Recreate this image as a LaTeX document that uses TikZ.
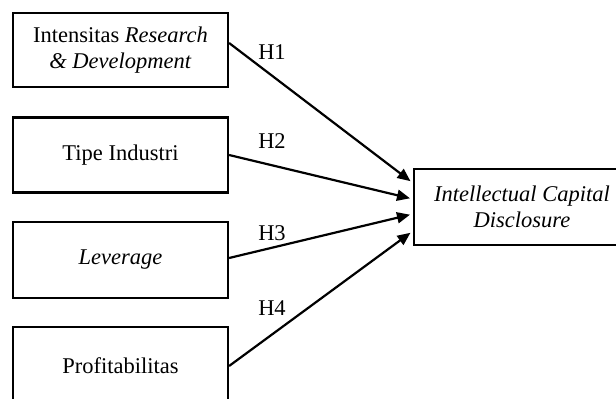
\documentclass[tikz,border=0pt]{standalone}
\usepackage{fontspec}
\setmainfont{Liberation Serif}
\usetikzlibrary{arrows.meta}
\begin{document}
\begin{tikzpicture}[x=1pt,y=-1pt,
  box/.style={draw,line width=2.2pt,inner sep=0pt,align=center,font=\fontsize{22.5}{26.5}\selectfont},
  lbl/.style={font=\fontsize{22.5}{26.5}\selectfont,inner sep=0pt},
  arr/.style={line width=2.2pt,-{Triangle[length=13pt,width=11pt]},shorten >=3pt}]
\useasboundingbox (0,0) rectangle (616,399);
\clip (0,0) rectangle (616,399);
\node[box,minimum width=215pt,minimum height=74pt] (b1) at (120.5,50) {Intensitas \textit{Research}\\\textit{\& Development}};
\node[box,minimum width=215pt,minimum height=75pt] (b2) at (120.5,155) {Tipe Industri};
\node[box,minimum width=215pt,minimum height=76pt] (b3) at (120.5,260) {\textit{Leverage}};
\node[box,minimum width=215pt,minimum height=78pt] (b4) at (120.5,366) {Profitabilitas};
\node[box,minimum width=216pt,minimum height=76pt] (ic) at (522,207) {\textit{Intellectual Capital}\\\textit{Disclosure}};
\draw[arr] ([yshift=7pt]b1.east) -- ([yshift=24pt]ic.west);
\draw[arr] (b2.east) -- ([yshift=8pt]ic.west);
\draw[arr] ([yshift=2pt]b3.east) -- ([yshift=-7pt]ic.west);
\draw[arr] (b4.east) -- ([yshift=-24pt]ic.west);
\node[lbl] (h1) at (272,52) {H1};
\node[lbl] (h2) at (272,141) {H2};
\node[lbl] (h3) at (272,233) {H3};
\node[lbl] (h4) at (272,308) {H4};
\end{tikzpicture}
\end{document}
